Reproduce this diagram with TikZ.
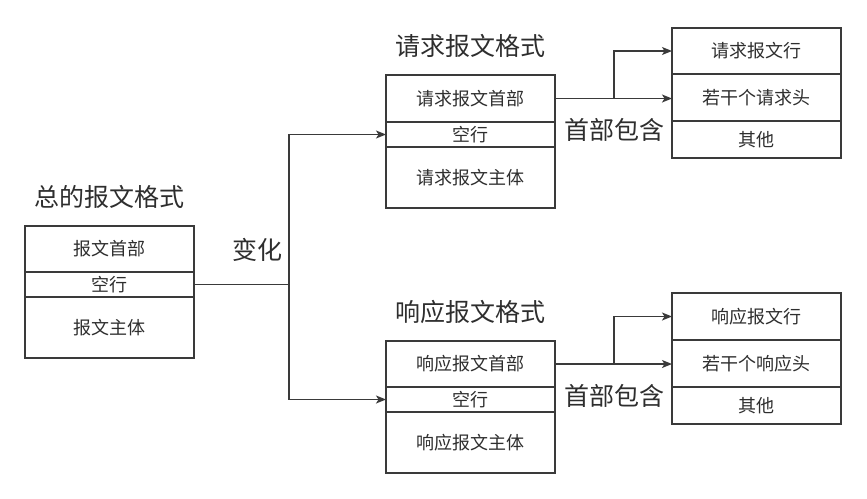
\documentclass[tikz,border=0pt]{standalone}
\usepackage{fontspec}
\setmainfont{Noto Sans CJK SC}
\usetikzlibrary{arrows.meta,positioning}
\definecolor{edgegray}{HTML}{3A3A3A}
\definecolor{inkgray}{HTML}{2E2E2E}
\tikzset{
  cell/.style ={draw=edgegray,line width=1.4pt,minimum width=169pt,inner sep=0pt,outer sep=0pt,
                font=\fontsize{18}{18}\selectfont,text=inkgray},
  title/.style={inner sep=0pt,font=\fontsize{25}{25}\selectfont,text=inkgray},
  lbl/.style  ={inner sep=0pt,font=\fontsize{25}{25}\selectfont,text=inkgray},
  line/.style ={draw=edgegray,line width=1.4pt},
  flow/.style ={line,-{Stealth[length=10pt,width=8pt,inset=2.5pt]}},
}
\begin{document}
\begin{tikzpicture}[x=1pt,y=-1pt,node distance=0pt]
\useasboundingbox (0,0) rectangle (867,498);
% overall format
\node[cell,minimum height=46pt,anchor=north] (gh) at (109.5,226) {报文首部};
\node[cell,minimum height=25pt,below=of gh] (ge) {空行};
\node[cell,minimum height=61pt,below=of ge] (gb) {报文主体};
\node[title,above=17pt of gh] (gt) {总的报文格式};
% request format
\node[cell,minimum height=47pt,anchor=north] (qh) at (470.5,75) {请求报文首部};
\node[cell,minimum height=25pt,below=of qh] (qe) {空行};
\node[cell,minimum height=61pt,below=of qe] (qb) {请求报文主体};
\node[title,above=17pt of qh] (qt) {请求报文格式};
\node[cell,minimum height=46pt,anchor=north] (ql) at (756.5,28) {请求报文行};
\node[cell,minimum height=47pt,below=of ql] (qhd) {若干个请求头};
\node[cell,minimum height=37pt,below=of qhd] (qo) {其他};
% response format
\node[cell,minimum height=46pt,anchor=north] (rh) at (470.5,341) {响应报文首部};
\node[cell,minimum height=25pt,below=of rh] (re) {空行};
\node[cell,minimum height=61pt,below=of re] (rb) {响应报文主体};
\node[title,above=17pt of rh] (rt) {响应报文格式};
\node[cell,minimum height=47pt,anchor=north] (rl) at (756.5,293) {响应报文行};
\node[cell,minimum height=47pt,below=of rl] (rhd) {若干个响应头};
\node[cell,minimum height=37pt,below=of rhd] (ro) {其他};
% connectors
\coordinate[right=95pt of ge.east] (split);
\draw[line] (ge.east) -- (split);
\draw[flow] (split) |- (qe.west);
\draw[flow] (split) |- (re.west);
\node[lbl] (chg) at (257,250) {变化};
\coordinate[right=59pt of qh.east] (qsplit);
\draw[flow] (qh.east) -- (qh.east -| qhd.west);
\draw[flow] (qsplit) |- (ql.west);
\node[lbl,below=20pt of qsplit] (qinc) {首部包含};
\coordinate[right=59pt of rh.east] (rsplit);
\draw[flow] (rh.east) -- (rh.east -| rhd.west);
\draw[flow] (rsplit) |- (rl.west);
\node[lbl,below=20pt of rsplit] (rinc) {首部包含};
\end{tikzpicture}
\end{document}
